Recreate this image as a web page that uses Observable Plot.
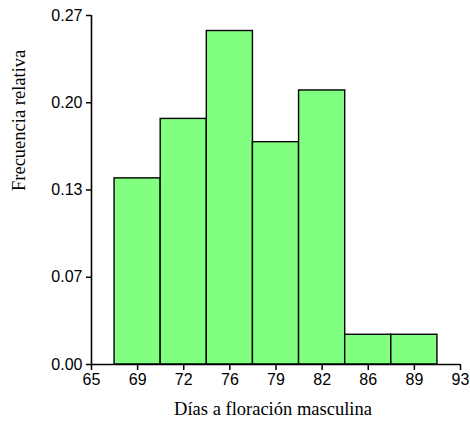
<!DOCTYPE html>
<html>
<head>
<meta charset="utf-8">
<script src="https://cdn.jsdelivr.net/npm/d3@7"></script>
<script src="https://cdn.jsdelivr.net/npm/@observablehq/plot@0.6"></script>
<style>
  html, body { margin: 0; padding: 0; background: #fff; }
  #chart svg { display: block; }
</style>
</head>
<body>
<div id="chart"></div>
<script>
// Bin edges (days) and relative frequencies
const binStart = [66.75, 70.25, 73.75, 77.25, 80.75, 84.25, 87.75];
const binEnd   = [70.25, 73.75, 77.25, 80.75, 84.25, 87.75, 91.25];
const relFreq  = [0.144, 0.190, 0.258, 0.172, 0.212, 0.023, 0.023];

// Axis ticks and their printed labels
const xTicks      = [65, 68.5, 72, 75.5, 79, 82.5, 86, 89.5, 93];
const xTickLabels = ["65", "69", "72", "76", "79", "82", "86", "89", "93"];
const yTicks      = [0, 0.0675, 0.135, 0.2025, 0.27];
const yTickLabels = ["0.00", "0.07", "0.13", "0.20", "0.27"];

const xTitle = "Días a floración masculina";
const yTitle = "Frecuencia relativa";

const bins = binStart.map((s, i) => ({x1: s, x2: binEnd[i], f: relFreq[i]}));

const chart = Plot.plot({
  width: 470,
  height: 421,
  marginLeft: 91,
  marginRight: 10,
  marginTop: 15,
  marginBottom: 57,
  style: {fontSize: "15px", color: "#000", background: "#fff"},
  x: {domain: [65, 93]},
  y: {domain: [0, 0.27]},
  marks: [
    Plot.rect(bins, {x1: "x1", x2: "x2", y1: 0, y2: "f", fill: "#80ff80", stroke: "#000", strokeWidth: 1.4}),
    Plot.ruleY([0], {stroke: "#000", strokeWidth: 1.6}),
    Plot.ruleX([65], {stroke: "#000", strokeWidth: 1.6}),
    Plot.axisX({ticks: xTicks, tickFormat: (d, i) => xTickLabels[i], tickSize: 6, tickPadding: 3,
      stroke: "#000", strokeWidth: 1.5, label: null}),
    Plot.axisY({ticks: yTicks, tickFormat: (d, i) => yTickLabels[i], tickSize: 5, tickPadding: 4,
      stroke: "#000", strokeWidth: 1.5, label: null}),
    Plot.text([xTitle], {frameAnchor: "bottom", dy: 50, dx: -3, lineAnchor: "bottom", fill: "#000"}),
    Plot.text([yTitle], {frameAnchor: "left", dx: -67, dy: 1, rotate: -90, lineAnchor: "bottom", fill: "#000"})
  ]
});

d3.select(chart).selectAll("text").each(function() {
  const t = this.textContent;
  if (t === xTitle || t === yTitle) {
    this.style.fontFamily = "'Liberation Serif', 'Times New Roman', serif";
    this.style.fontSize = "18.5px";
  } else {
    this.style.fontFamily = "'Liberation Sans', Arial, sans-serif";
    this.style.fontSize = "16px";
  }
  this.style.fill = "#000";
});

document.getElementById("chart").appendChild(chart);
</script>
</body>
</html>
